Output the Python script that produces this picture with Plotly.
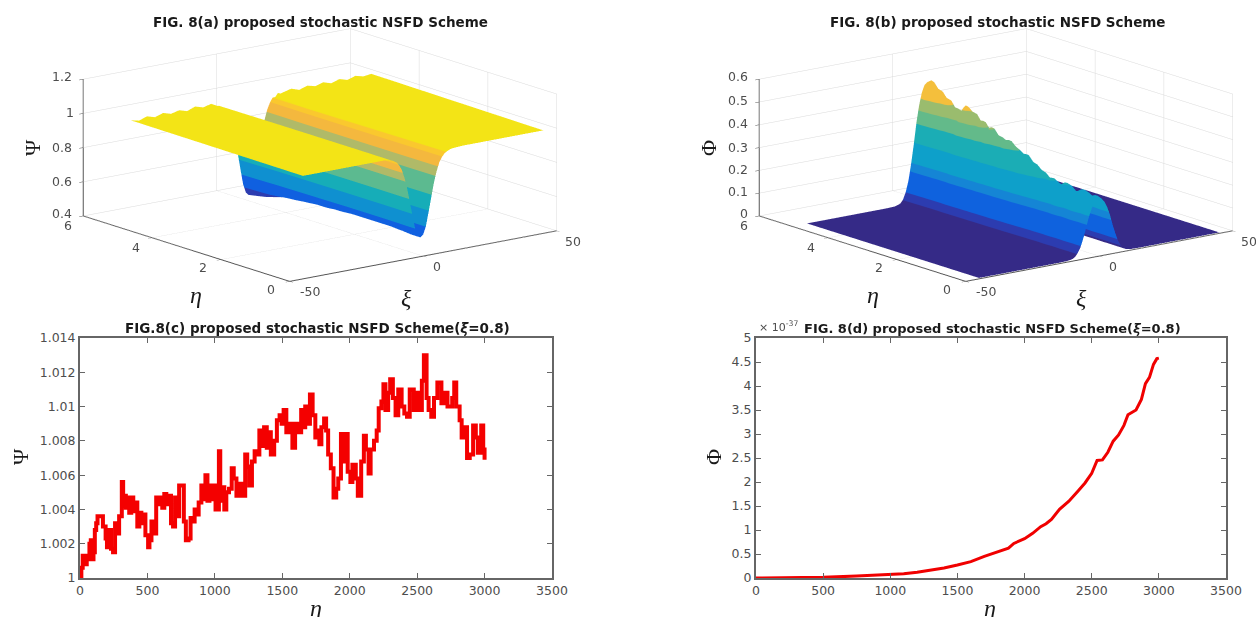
import plotly.graph_objects as go

W, H = 1256, 617

# ---- surface axes --------------------------------------------------------
xi = [-45, -42, -39, -36, -33, -30, -27, -24, -21, -18, -15, -12, -11, -10, -9, -8, -7, -6, -5, -4, -3, -2, -1, 0,
      1, 2, 3, 4, 5, 6, 7, 8, 9, 10, 11, 12, 15, 18, 21, 24, 27, 30, 33, 36, 39, 42, 45]
xi_a = [-45, -42, -39, -36, -33, -30, -27, -24, -21, -18, -15, -13, -12, -11, -10, -9, -8, -7, -6, -5, -4, -3, -2, -1,
        0, 1, 2, 3, 4, 5, 6, 7, 8, 9, 10, 11, 15, 18, 21, 24, 27, 30, 33, 36, 39, 42, 45]
eta = [0, 0.125, 0.25, 0.375, 0.5, 0.625, 0.75, 0.875, 1, 1.125, 1.25, 1.375, 1.5, 1.625, 1.75, 1.875, 2, 2.125, 2.25, 2.375, 2.5,
       2.625, 2.75, 2.875, 3, 3.125, 3.25, 3.375, 3.5, 3.625, 3.75, 3.875, 4, 4.125, 4.25, 4.375, 4.5, 4.625, 4.75, 4.875, 5]

# ---- panel (a) read-offs -------------------------------------------------
psi_profile = [0, 0, 0, 0, 0, 0, 0, 0, 0, 0, 0, 0.008, 0.015, 0.03, 0.05, 0.09, 0.15, 0.25, 0.38, 0.55, 0.72, 0.88, 0.97, 1,
               0.97, 0.88, 0.72, 0.55, 0.38, 0.25, 0.15, 0.09, 0.05, 0.03, 0.015, 0.008, 0, 0, 0, 0, 0, 0, 0, 0, 0, 0, 0]
psi_edge = [1.008, 0.998, 1.014, 1.000, 1.016, 1.002, 1.014, 1.000, 1.018, 1.004, 1.016, 1.003, 1.004, 1.004, 1.003, 1.003, 1.003, 1.003, 1.002, 1.002, 1.002, 1.002, 1.002, 1.002,
            1.002, 1.002, 1.002, 1.003, 1.003, 1.003, 1.004, 1.008, 1.012, 1.002, 1.014, 1.004, 1.016, 1.000, 1.016, 1.004, 1.018, 1.003, 1.019, 1.005, 1.020, 1.008, 1.014]
psi_depth = [0.49, 0.49, 0.49, 0.488, 0.485, 0.484, 0.482, 0.48, 0.48, 0.48, 0.48, 0.48, 0.48, 0.48, 0.48, 0.48, 0.48, 0.482, 0.484, 0.485, 0.485,
             0.488, 0.49, 0.49, 0.49, 0.492, 0.495, 0.497, 0.50, 0.503, 0.505, 0.507, 0.51, 0.517, 0.525, 0.532, 0.54, 0.545, 0.55, 0.555, 0.56]

# ---- panel (b) read-offs -------------------------------------------------
phi_floor = 0.004
phi_profile = [0, 0, 0, 0, 0, 0, 0, 0, 0, 0, 0, 0.003, 0.01, 0.02, 0.05, 0.11, 0.2, 0.34, 0.5, 0.68, 0.82, 0.92, 0.98, 1,
               0.98, 0.92, 0.82, 0.68, 0.5, 0.34, 0.2, 0.11, 0.05, 0.02, 0.01, 0.003, 0, 0, 0, 0, 0, 0, 0, 0, 0, 0, 0]
phi_peak = [0.250, 0.258, 0.248, 0.260, 0.266, 0.252, 0.246, 0.266, 0.272, 0.255, 0.262, 0.274, 0.270, 0.288, 0.294, 0.312, 0.318, 0.342, 0.338, 0.352, 0.362,
            0.380, 0.374, 0.384, 0.388, 0.412, 0.402, 0.428, 0.424, 0.452, 0.456, 0.472, 0.438, 0.448, 0.448, 0.476, 0.480, 0.504, 0.510, 0.534, 0.520]

# ---- panel (c) read-offs -------------------------------------------------
eta_c = [0, 10, 20, 40, 50, 60, 70, 80, 90, 100, 110, 120, 130, 150, 170, 190, 200, 215, 230, 245, 260, 275, 290, 310, 320, 330, 340, 350, 365, 380, 395, 410, 425, 440, 455, 470, 485, 505, 515, 530, 545, 565, 580, 595, 610, 625, 640, 660, 675, 690, 705, 720, 735, 755, 770, 785, 805, 820, 835, 850, 865, 880, 900, 920, 930, 945, 960, 975, 990, 1005, 1030, 1040, 1055, 1070, 1085, 1105, 1125, 1140, 1160, 1175, 1200, 1225, 1240, 1255, 1275, 1295, 1310, 1330, 1345, 1365, 1385, 1400, 1415, 1440, 1460, 1480, 1495, 1510, 1530, 1550, 1575, 1595, 1620, 1640, 1655, 1670, 1690, 1705, 1725, 1745, 1760, 1775, 1790, 1810, 1825, 1840, 1860, 1880, 1900, 1915, 1935, 1950, 1965, 1985, 2005, 2020, 2045, 2060, 2085, 2105, 2120, 2140, 2155, 2180, 2200, 2215, 2235, 2250, 2265, 2285, 2300, 2320, 2340, 2360, 2385, 2405, 2425, 2445, 2475, 2490, 2515, 2535, 2550, 2570, 2585, 2605, 2625, 2650, 2680, 2700, 2725, 2760, 2775, 2790, 2815, 2830, 2850, 2870, 2890, 2915, 2935, 2950, 2975, 2990, 3000]
psi_c = [1.000, 1.0006, 1.0013, 1.0008, 1.0013, 1.0011, 1.002, 1.0022, 1.0011, 1.0015, 1.0028, 1.0032, 1.0036, 1.0036, 1.003, 1.0023, 1.0018, 1.0028, 1.0017, 1.0015, 1.0032, 1.0026, 1.0036, 1.0056, 1.0042, 1.0048, 1.0041, 1.0047, 1.0038, 1.0047, 1.0039, 1.0044, 1.003, 1.0038, 1.0032, 1.0037, 1.0025, 1.0018, 1.0022, 1.0033, 1.0026, 1.0047, 1.0043, 1.0047, 1.0041, 1.0049, 1.0043, 1.0048, 1.0032, 1.003, 1.0047, 1.0036, 1.0054, 1.0054, 1.0033, 1.0022, 1.0023, 1.0035, 1.0033, 1.004, 1.0037, 1.0044, 1.0054, 1.0046, 1.006, 1.0045, 1.0054, 1.0046, 1.0054, 1.004, 1.0074, 1.0045, 1.0053, 1.004, 1.005, 1.0052, 1.0064, 1.0058, 1.0048, 1.0055, 1.0048, 1.0072, 1.0065, 1.0054, 1.0068, 1.0074, 1.0072, 1.0086, 1.0077, 1.0088, 1.0076, 1.0085, 1.0072, 1.008, 1.0092, 1.0095, 1.009, 1.0098, 1.0085, 1.009, 1.0076, 1.009, 1.0085, 1.0098, 1.0088, 1.01, 1.009, 1.0107, 1.0095, 1.0082, 1.0086, 1.0078, 1.0088, 1.0093, 1.0086, 1.0072, 1.0064, 1.0047, 1.0052, 1.0058, 1.0084, 1.0068, 1.0084, 1.0062, 1.0056, 1.0066, 1.0058, 1.0048, 1.0068, 1.0083, 1.0075, 1.0061, 1.0075, 1.008, 1.0086, 1.0099, 1.0103, 1.0113, 1.0098, 1.0108, 1.0116, 1.0105, 1.0095, 1.011, 1.01, 1.0096, 1.0094, 1.011, 1.0098, 1.0108, 1.0098, 1.0115, 1.013, 1.0105, 1.0098, 1.0094, 1.0105, 1.0114, 1.0102, 1.0108, 1.01, 1.0105, 1.0114, 1.01, 1.0092, 1.0082, 1.0088, 1.007, 1.0072, 1.0089, 1.0082, 1.0073, 1.0089, 1.0075, 1.0069]

# ---- panel (d) read-offs -------------------------------------------------
eta_d = [0, 250, 500, 750, 1000, 1100, 1200, 1300, 1400, 1500, 1600, 1700, 1800, 1880, 1920, 2000, 2060, 2120, 2160, 2200, 2260, 2330, 2400, 2450, 2500, 2540, 2580, 2620, 2660, 2700, 2740, 2770, 2830, 2870, 2900, 2930, 2960, 2985, 3000]
phi_d = [0.0, 0.005, 0.015, 0.04, 0.07, 0.09, 0.12, 0.16, 0.21, 0.27, 0.34, 0.45, 0.55, 0.62, 0.72, 0.82, 0.93, 1.07, 1.13, 1.22, 1.43, 1.6, 1.82, 1.98, 2.18, 2.45, 2.46, 2.62, 2.85, 2.98, 3.18, 3.4, 3.5, 3.72, 4.05, 4.18, 4.45, 4.57, 4.58]

# ---- colour bands ----------------------------------------------------------
bands_a = [0.44, 0.49, 0.57, 0.66, 0.75, 0.857, 0.91, 0.964, 0.985, 1.03]
colors_a = ["#2C3CB0", "#1060E0", "#0F90D0", "#16ADB8", "#5CBA90", "#B0BA68", "#F4B83E", "#FAC82E", "#F3E416"]
bands_b = [0, 0.028, 0.06, 0.148, 0.184, 0.27, 0.353, 0.41, 0.46, 0.58]
colors_b = ["#352A87", "#2C3CB0", "#0F62DE", "#1585D5", "#0EA0CA", "#1BADB5", "#63BA8A", "#9ABC6E", "#F4BF3C"]

GREY = "#4d4d4d"
SANS = "DejaVu Sans"
SERIF = "Liberation Serif"
TICK = 12.5


def steps(levels, cols):
    lo, hi = levels[0], levels[-1]
    out = []
    for i, c in enumerate(cols):
        out.append([(levels[i] - lo) / (hi - lo), c])
        out.append([(levels[i + 1] - lo) / (hi - lo), c])
    return out


def dom_x(a, b):
    return [a / W, b / W]


def dom_y(top, bottom):
    return [1 - bottom / H, 1 - top / H]


def axis3d(vals, rng):
    return dict(range=rng, tickvals=vals, title=dict(text=""), showticklabels=False,
                showgrid=True, gridcolor="#dadada", gridwidth=1, showbackground=False,
                showline=True, linecolor="#555555", linewidth=2, zeroline=False,
                ticks="outside", ticklen=5, tickcolor="#555555", showspikes=False)


EYE = 3.0
BOX = 2.25


def scene(domx, domy, ztv, zr):
    return dict(domain=dict(x=domx, y=domy),
                xaxis=axis3d([-50, 0, 50], [-50, 50]),
                yaxis=axis3d([0, 2, 4, 6], [0, 6]),
                zaxis=axis3d(ztv, zr),
                aspectmode="manual", aspectratio=dict(x=BOX, y=BOX, z=0.418 * BOX),
                camera=dict(projection=dict(type="orthographic"),
                            eye=dict(x=-0.593 * EYE, y=-0.767 * EYE, z=0.245 * EYE),
                            up=dict(x=0, y=0, z=1), center=dict(x=0, y=0, z=0)),
                bgcolor="rgba(0,0,0,0)")


LIGHT = dict(ambient=1, diffuse=0, specular=0, roughness=1, fresnel=0)

Z_a = [[1.002 + (psi_edge[j] - 1.002) * e / 5 - d * psi_profile[j]
        for j in range(len(xi_a))] for e, d in zip(eta, psi_depth)]
Z_b = [[phi_floor + p * phi_profile[j] for j in range(len(xi))] for p in phi_peak]

fig = go.Figure()
fig.add_trace(go.Surface(x=xi_a, y=eta, z=Z_a, scene="scene", colorscale=steps(bands_a, colors_a),
                         cmin=bands_a[0], cmax=bands_a[-1], showscale=False, lighting=LIGHT, hoverinfo="skip"))
fig.add_trace(go.Surface(x=xi, y=eta, z=Z_b, scene="scene2", colorscale=steps(bands_b, colors_b),
                         cmin=bands_b[0], cmax=bands_b[-1], showscale=False, lighting=LIGHT, hoverinfo="skip"))
fig.add_trace(go.Scatter(x=eta_c, y=psi_c, mode="lines", line=dict(color="#f40000", width=4, shape="hv"), xaxis="x", yaxis="y", hoverinfo="skip"))
fig.add_trace(go.Scatter(x=eta_d, y=phi_d, mode="lines", line=dict(color="#f00000", width=3), xaxis="x2", yaxis="y2", hoverinfo="skip"))


def axis2d(rng, dtick, domain, anchor):
    return dict(range=rng, dtick=dtick, tick0=0, domain=domain, anchor=anchor, showgrid=False, zeroline=False,
                showline=True, mirror="ticks", linecolor="#666666", linewidth=2, ticks="inside", ticklen=5,
                tickcolor="#666666", tickfont=dict(family=SANS, size=TICK, color=GREY))


def label(text, x, y, size=13, family=SANS, bold=False, rot=0, color="#1a1a1a"):
    return dict(text=f"<b>{text}</b>" if bold else text, x=x / W, y=1 - y / H, xref="paper", yref="paper",
                xanchor="center", yanchor="middle", showarrow=False, textangle=rot,
                font=dict(family=family, size=size, color=color))


TITLE = 13.5
annotations = [
    label("FIG. 8(a) proposed stochastic NSFD Scheme", 320, 22, TITLE, bold=True),
    label("FIG. 8(b) proposed stochastic NSFD Scheme", 998, 22, TITLE, bold=True),
    label("FIG.8(c) proposed stochastic NSFD Scheme(<i>ξ</i>=0.8)", 317, 328, TITLE, bold=True),
    label("FIG. 8(d) proposed stochastic NSFD Scheme(<i>ξ</i>=0.8)", 992, 328, 13, bold=True),
    label("× 10<sup>-37</sup>", 778, 326, 11, color=GREY),
    label("Ψ", 32, 148, 22, SERIF, rot=-90),
    label("<i>η</i>", 196, 295, 24, SERIF),
    label("<i>ξ</i>", 406, 298, 24, SERIF),
    label("Φ", 708, 148, 22, SERIF, rot=-90),
    label("<i>η</i>", 873, 295, 24, SERIF),
    label("<i>ξ</i>", 1081, 298, 24, SERIF),
    label("Ψ", 21, 457, 22, SERIF, rot=-90),
    label("<i>η</i>", 316, 608, 24, SERIF),
    label("Φ", 714, 457, 22, SERIF, rot=-90),
    label("<i>η</i>", 990, 608, 24, SERIF),
]

# tick labels of the two 3-D boxes: (text, pixel x, pixel y)
ticks_3d = [
    ("1.2", 62, 77), ("1", 70, 112), ("0.8", 62, 147), ("0.6", 62, 181), ("0.4", 62, 214),
    ("6", 68, 226), ("4", 136, 247), ("2", 203, 267), ("0", 271, 289),
    ("-50", 310, 291), ("0", 437, 266), ("50", 573, 241),
    ("0.6", 738, 77), ("0.5", 738, 100), ("0.4", 738, 123), ("0.3", 738, 147), ("0.2", 738, 169), ("0.1", 738, 192), ("0", 744, 214),
    ("6", 744, 226), ("4", 811, 247), ("2", 879, 267), ("0", 947, 289),
    ("-50", 986, 291), ("0", 1113, 266), ("50", 1249, 241),
]
annotations += [label(t, x, y, TICK, color=GREY) for t, x, y in ticks_3d]

fig.update_layout(
    width=W, height=H, margin=dict(l=0, r=0, t=0, b=0, autoexpand=False), autosize=False, showlegend=False,
    paper_bgcolor="white", plot_bgcolor="white", annotations=annotations,
    scene=scene(dom_x(60, 580), dom_y(5, 305), [0.4, 0.6, 0.8, 1, 1.2], [0.4, 1.2]),
    scene2=scene(dom_x(736, 1256), dom_y(5, 305), [0, 0.1, 0.2, 0.3, 0.4, 0.5, 0.6], [0, 0.6]),
    xaxis=axis2d([0, 3500], 500, dom_x(80, 552), "y"),
    yaxis=axis2d([1, 1.014], 0.002, dom_y(338, 578), "x"),
    xaxis2=axis2d([0, 3500], 500, dom_x(756, 1226), "y2"),
    yaxis2=axis2d([0, 5], 0.5, dom_y(338, 578), "x2"),
)

fig.write_html("out.html", config=dict(displayModeBar=False),
               post_script="document.body.style.margin='0';document.body.style.overflow='hidden';")
